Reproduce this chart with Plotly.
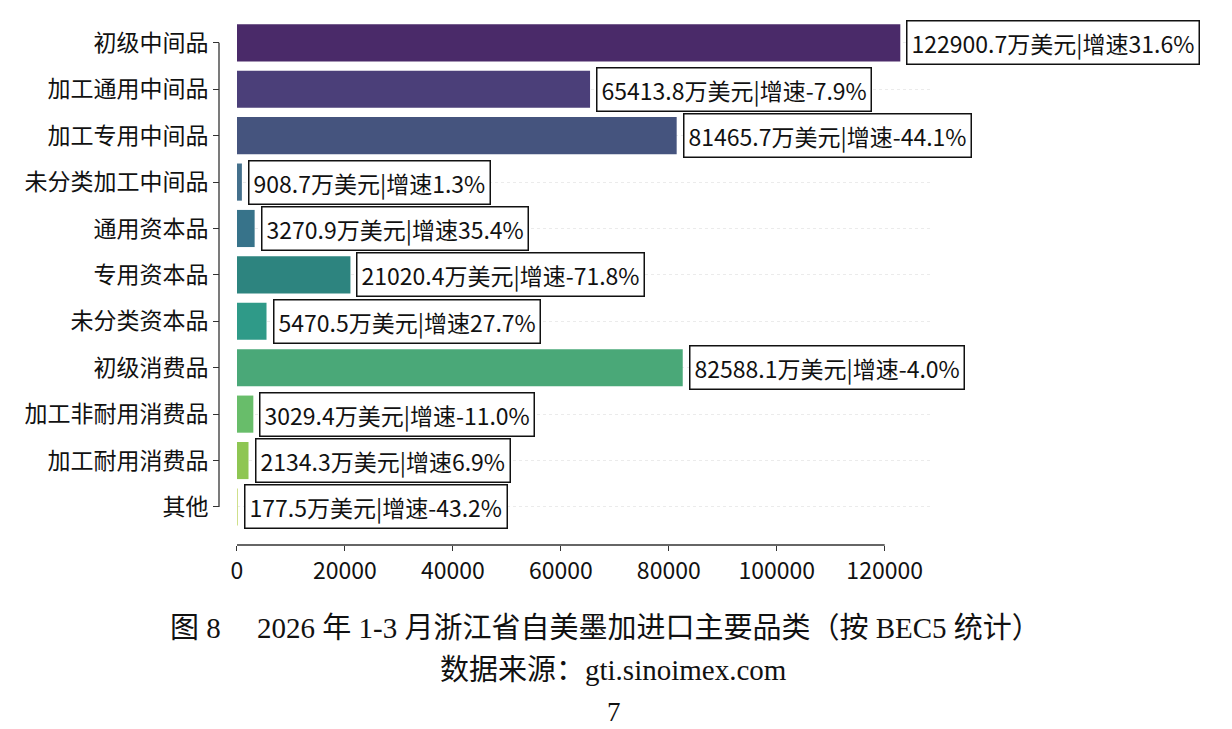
import plotly.graph_objects as go

categories = ["初级中间品", "加工通用中间品", "加工专用中间品", "未分类加工中间品", "通用资本品",
              "专用资本品", "未分类资本品", "初级消费品", "加工非耐用消费品", "加工耐用消费品", "其他"]
values = [122900.7, 65413.8, 81465.7, 908.7, 3270.9, 21020.4, 5470.5, 82588.1, 3029.4, 2134.3, 177.5]
growth = [31.6, -7.9, -44.1, 1.3, 35.4, -71.8, 27.7, -4.0, -11.0, 6.9, -43.2]
colors = ["#4a2a69", "#4b3f79", "#45547e", "#44708c", "#37738a", "#2d847f",
          "#2f9a88", "#4aa878", "#68bd6a", "#8ec653", "#cfe08a"]
xticks = [0, 20000, 40000, 60000, 80000, 100000, 120000]
xticklabels = ["0", "20000", "40000", "60000", "80000", "100000", "120000"]

cjk = "Noto Sans CJK SC"
serif = "Liberation Serif, Noto Sans CJK SC"

fig = go.Figure()
fig.add_trace(go.Bar(
    x=values, y=categories, orientation="h",
    marker=dict(color=colors, line=dict(width=0)),
    width=0.8, hoverinfo="skip", showlegend=False,
))

for c, v, g in zip(categories, values, growth):
    fig.add_annotation(
        x=v, y=c, xref="x", yref="y",
        text=f"{v:.1f}万美元|增速{g:.1f}%",
        showarrow=False, xanchor="left", yanchor="middle", xshift=6,
        font=dict(family=cjk, size=23, color="#111111"),
        bgcolor="white", bordercolor="#111111", borderwidth=1.5, borderpad=4,
    )

# trimmed spines
fig.add_shape(type="line", xref="x", yref="paper", x0=0, x1=xticks[-1], y0=0, y1=0,
              line=dict(color="#333333", width=1.3))
fig.add_shape(type="line", xref="paper", yref="y", x0=0, x1=0, y0=categories[0], y1=categories[-1],
              line=dict(color="#333333", width=1.3))

# captions
fig.add_annotation(xref="paper", yref="paper", x=0.543, y=-0.1566, xanchor="center", yanchor="middle",
                   text="图 8\u2003\u00a02026 年 1-3 月浙江省自美墨加进口主要品类（按 BEC5 统计）",
                   showarrow=False, font=dict(family=serif, size=29, color="#111111"))
fig.add_annotation(xref="paper", yref="paper", x=0.555, y=-0.2358, xanchor="center", yanchor="middle",
                   text="数据来源：gti.sinoimex.com",
                   showarrow=False, font=dict(family=serif, size=29, color="#111111"))
fig.add_annotation(xref="paper", yref="paper", x=0.556, y=-0.315, xanchor="center", yanchor="middle",
                   text="7",
                   showarrow=False, font=dict(family=serif, size=27, color="#111111"))

fig.update_layout(
    width=1232, height=729,
    margin=dict(l=219, r=302, t=15, b=184),
    paper_bgcolor="white", plot_bgcolor="white",
    xaxis=dict(domain=[0.0253, 1], range=[0, 128400], tickvals=xticks, ticktext=xticklabels,
               ticks="outside", ticklen=5, tickwidth=1.3, tickcolor="#333333",
               showgrid=False, zeroline=False, showline=False,
               tickfont=dict(family=cjk, size=23, color="#111111")),
    yaxis=dict(anchor="free", position=0, type="category",
               categoryorder="array", categoryarray=categories,
               range=[10.82, -0.6],
               ticks="outside", ticklen=6, tickwidth=1.3, tickcolor="#333333",
               showgrid=True, gridcolor="#ebebeb", griddash="dot", gridwidth=1,
               zeroline=False, showline=False,
               tickfont=dict(family=cjk, size=23, color="#111111")),
)

fig.write_html("out.html")
